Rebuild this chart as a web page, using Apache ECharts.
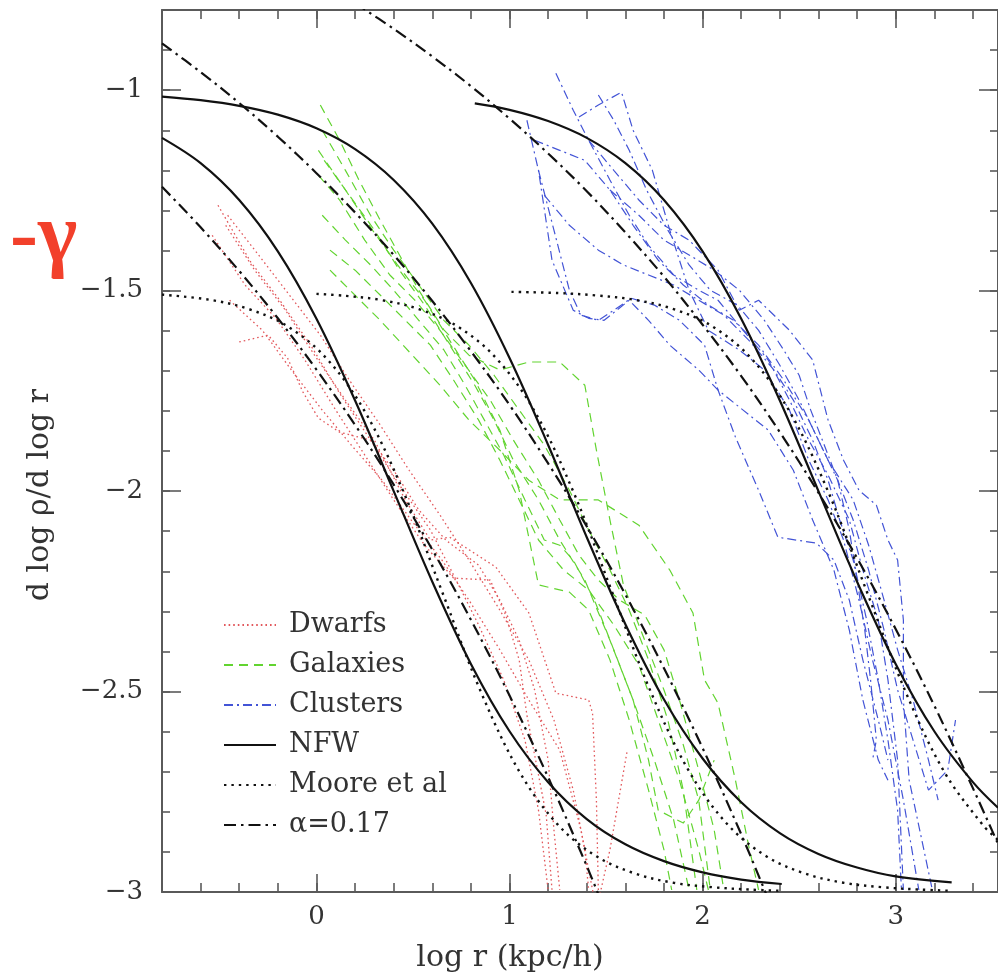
<!DOCTYPE html>
<html><head><meta charset="utf-8">
<script src="https://cdn.jsdelivr.net/npm/echarts@6/dist/echarts.min.js"></script>
<style>html,body{margin:0;padding:0;background:#fff}#c{width:998px;height:976px}</style>
</head><body><div id="c"></div>
<script>
// ---------- tick labels ----------
const xTickLabels = [0, 1, 2, 3];
const yTickLabels = [-3, -2.5, -2, -1.5, -1];
const legendNames = ['Dwarfs', 'Galaxies', 'Clusters', 'NFW', 'Moore et al', 'α=0.17'];

// ---------- model curves [log r, slope] ----------
const nfwDwarf = [[-0.8,-1.119],[-0.6,-1.182],[-0.4,-1.274],[-0.2,-1.402],[0,-1.570],[0.2,-1.774],[0.4,-2.0],[0.6,-2.226],[0.8,-2.431],[1.0,-2.599],[1.2,-2.726],[1.4,-2.818],[1.6,-2.881],[1.8,-2.923],[2.0,-2.951],[2.2,-2.969],[2.41,-2.980]];
const nfwGalaxy = [[-0.8,-1.016],[-0.6,-1.025],[-0.4,-1.039],[-0.2,-1.061],[0,-1.095],[0.2,-1.147],[0.4,-1.224],[0.6,-1.333],[0.8,-1.481],[1.0,-1.668],[1.2,-1.885],[1.4,-2.115],[1.6,-2.332],[1.8,-2.520],[2.0,-2.667],[2.2,-2.776],[2.4,-2.853],[2.6,-2.905],[2.8,-2.939],[3.0,-2.961],[3.29,-2.976]];
const nfwCluster = [[0.82,-1.033],[1.0,-1.049],[1.2,-1.077],[1.4,-1.119],[1.6,-1.182],[1.8,-1.274],[2.0,-1.402],[2.2,-1.570],[2.4,-1.774],[2.6,-2.0],[2.8,-2.226],[3.0,-2.431],[3.2,-2.599],[3.4,-2.726],[3.53,-2.79]];
const mooreDwarf = [[-0.8,-1.510],[-0.55,-1.523],[-0.35,-1.546],[-0.15,-1.589],[0.05,-1.668],[0.25,-1.801],[0.45,-2.001],[0.65,-2.25],[0.85,-2.499],[1.05,-2.699],[1.25,-2.832],[1.45,-2.911],[1.65,-2.954],[1.85,-2.977],[2.05,-2.988],[2.25,-2.994],[2.41,-2.997]];
const mooreGalaxy = [[0.0,-1.508],[0.15,-1.513],[0.33,-1.523],[0.53,-1.546],[0.73,-1.589],[0.93,-1.668],[1.13,-1.801],[1.33,-2.001],[1.53,-2.25],[1.73,-2.499],[1.93,-2.699],[2.13,-2.832],[2.33,-2.911],[2.53,-2.954],[2.73,-2.977],[2.93,-2.988],[3.13,-2.994],[3.29,-2.997]];
const mooreCluster = [[1.01,-1.503],[1.25,-1.506],[1.45,-1.512],[1.65,-1.523],[1.85,-1.546],[2.05,-1.589],[2.25,-1.668],[2.45,-1.801],[2.65,-2.001],[2.85,-2.25],[3.05,-2.499],[3.25,-2.699],[3.45,-2.832],[3.53,-2.87]];
const alphaDwarf = [[-0.8,-1.241],[-0.6,-1.342],[-0.4,-1.451],[-0.2,-1.569],[0,-1.697],[0.2,-1.835],[0.4,-1.984],[0.6,-2.146],[0.8,-2.321],[1.0,-2.510],[1.2,-2.714],[1.4,-2.935],[1.46,-3.006]];
const alphaGalaxy = [[-0.8,-0.883],[-0.6,-0.955],[-0.4,-1.032],[-0.2,-1.116],[0,-1.207],[0.2,-1.305],[0.4,-1.411],[0.6,-1.526],[0.8,-1.651],[1.0,-1.785],[1.2,-1.931],[1.4,-2.088],[1.6,-2.258],[1.8,-2.442],[2.0,-2.641],[2.2,-2.856],[2.33,-3.006]];
const alphaCluster = [[0.2,-0.783],[0.4,-0.847],[0.6,-0.916],[0.8,-0.990],[1.0,-1.071],[1.2,-1.158],[1.4,-1.252],[1.6,-1.355],[1.8,-1.465],[2.0,-1.585],[2.2,-1.713],[2.4,-1.853],[2.6,-2.004],[2.8,-2.167],[3.0,-2.344],[3.2,-2.535],[3.4,-2.741],[3.53,-2.88]];

// ---------- simulated dwarfs (red dotted) ----------
const dwarf1 = [[-0.51,-1.287],[-0.34,-1.429],[-0.19,-1.524],[-0.03,-1.636],[0.12,-1.756],[0.28,-1.873],[0.43,-1.985],[0.59,-2.097],[0.71,-2.209],[0.84,-2.334],[0.97,-2.471],[1.08,-2.621],[1.15,-2.796],[1.20,-2.995]];
const dwarf2 = [[-0.54,-1.362],[-0.37,-1.486],[-0.21,-1.569],[-0.06,-1.673],[0.10,-1.798],[0.25,-1.910],[0.40,-2.022],[0.56,-2.135],[0.71,-2.217],[0.90,-2.222],[0.98,-2.309],[1.05,-2.421],[1.09,-2.559],[1.14,-2.683],[1.19,-2.808],[1.22,-2.995]];
const dwarf3 = [[-0.40,-1.628],[-0.25,-1.611],[-0.15,-1.668],[-0.07,-1.753],[0.01,-1.818],[0.12,-1.853],[0.28,-1.873],[0.40,-1.948],[0.53,-2.047],[0.67,-2.122],[0.84,-2.185],[0.95,-2.272],[1.05,-2.372],[1.13,-2.496],[1.20,-2.671],[1.23,-2.845],[1.26,-2.995]];
const dwarf4 = [[-0.47,-1.337],[-0.32,-1.449],[-0.16,-1.549],[-0.01,-1.661],[0.15,-1.773],[0.30,-1.873],[0.46,-2.022],[0.59,-2.122],[0.69,-2.115],[0.93,-2.190],[1.10,-2.304],[1.24,-2.504],[1.41,-2.521],[1.43,-2.554],[1.45,-2.771],[1.46,-2.995]];
const dwarf5 = [[-0.45,-1.524],[-0.28,-1.599],[-0.13,-1.698],[0.03,-1.798],[0.18,-1.885],[0.34,-1.973],[0.49,-2.072],[0.65,-2.172],[0.79,-2.272],[0.95,-2.396],[1.10,-2.521],[1.26,-2.646],[1.37,-2.845],[1.45,-3.045],[1.52,-2.895],[1.61,-2.646]];
const dwarf6 = [[-0.46,-1.312],[-0.30,-1.411],[-0.14,-1.511],[0.02,-1.611],[0.17,-1.723],[0.33,-1.835],[0.48,-1.948],[0.64,-2.060],[0.79,-2.172],[0.95,-2.297],[1.10,-2.421],[1.23,-2.571],[1.33,-2.746],[1.39,-2.895],[1.41,-2.995]];

// ---------- simulated galaxies (green dashed) ----------
const galaxy1 = [[0.02,-1.037],[0.12,-1.125],[0.22,-1.224],[0.33,-1.324],[0.43,-1.411],[0.53,-1.499],[0.66,-1.598],[0.79,-1.661],[0.95,-1.698],[1.10,-1.678],[1.26,-1.678],[1.39,-1.736],[1.45,-1.898],[1.52,-2.072],[1.59,-2.234],[1.70,-2.372],[1.80,-2.496],[1.90,-2.633],[1.98,-2.771],[2.04,-2.995]];
const galaxy2 = [[0.03,-1.100],[0.15,-1.200],[0.28,-1.312],[0.40,-1.399],[0.53,-1.486],[0.66,-1.574],[0.79,-1.636],[0.92,-1.711],[1.05,-1.798],[1.18,-1.885],[1.31,-1.998],[1.41,-2.097],[1.52,-2.197],[1.62,-2.297],[1.72,-2.421],[1.82,-2.571],[1.90,-2.746],[1.97,-2.995]];
const galaxy3 = [[0.01,-1.212],[0.12,-1.274],[0.25,-1.374],[0.38,-1.461],[0.51,-1.524],[0.64,-1.599],[0.77,-1.686],[0.90,-1.773],[1.02,-1.873],[1.15,-1.973],[1.26,-2.072],[1.36,-2.160],[1.46,-2.222],[1.57,-2.272],[1.70,-2.309],[1.80,-2.396],[1.88,-2.521],[1.98,-2.696],[2.06,-2.845],[2.11,-2.995]];
const galaxy4 = [[0.03,-1.312],[0.15,-1.374],[0.28,-1.436],[0.40,-1.499],[0.53,-1.574],[0.66,-1.648],[0.77,-1.736],[0.87,-1.823],[0.97,-1.910],[1.08,-2.022],[1.18,-2.122],[1.26,-2.135],[1.33,-2.172],[1.44,-2.272],[1.54,-2.396],[1.64,-2.521],[1.72,-2.671],[1.77,-2.796],[1.90,-2.828],[1.98,-2.771],[2.06,-2.671]];
const galaxy5 = [[0.07,-1.399],[0.20,-1.449],[0.33,-1.511],[0.46,-1.574],[0.59,-1.636],[0.71,-1.723],[0.84,-1.823],[0.95,-1.923],[1.05,-2.022],[1.15,-2.122],[1.28,-2.197],[1.41,-2.247],[1.54,-2.334],[1.67,-2.434],[1.77,-2.571],[1.88,-2.721],[1.98,-2.895],[2.03,-2.995]];
const galaxy6 = [[0.04,-1.175],[0.17,-1.262],[0.30,-1.349],[0.43,-1.449],[0.56,-1.536],[0.69,-1.636],[0.82,-1.736],[0.92,-1.823],[1.02,-1.923],[1.15,-2.022],[1.26,-2.122],[1.39,-2.222],[1.52,-2.372],[1.64,-2.521],[1.75,-2.671],[1.85,-2.820],[1.93,-2.995]];
const galaxy7 = [[0.07,-1.449],[0.33,-1.574],[0.64,-1.736],[0.79,-1.823],[0.95,-1.898],[1.10,-1.973],[1.26,-2.022],[1.46,-2.022],[1.67,-2.085],[1.83,-2.197],[1.95,-2.304],[2.01,-2.471],[2.08,-2.529],[2.17,-2.721],[2.24,-2.888],[2.29,-2.995]];
const galaxy8 = [[0.01,-1.150],[0.15,-1.249],[0.29,-1.349],[0.42,-1.436],[0.56,-1.524],[0.69,-1.624],[0.82,-1.723],[0.95,-1.848],[1.05,-1.998],[1.15,-2.234],[1.31,-2.252],[1.41,-2.297],[1.52,-2.421],[1.62,-2.571],[1.72,-2.746],[1.80,-2.895],[1.84,-2.995]];

// ---------- simulated clusters (blue dash-dot) ----------
const cluster1 = [[1.24,-0.958],[1.33,-1.050],[1.41,-1.125],[1.52,-1.224],[1.62,-1.312],[1.72,-1.387],[1.85,-1.461],[1.98,-1.499],[2.08,-1.524],[2.21,-1.599],[2.34,-1.673],[2.45,-1.773],[2.55,-1.873],[2.65,-1.960],[2.76,-2.072],[2.83,-2.197],[2.91,-2.322],[2.96,-2.471],[3.01,-2.671],[3.04,-2.995]];
const cluster2 = [[1.09,-1.075],[1.15,-1.200],[1.22,-1.424],[1.33,-1.549],[1.41,-1.569],[1.49,-1.574],[1.62,-1.524],[1.72,-1.574],[1.83,-1.636],[1.98,-1.698],[2.08,-1.748],[2.21,-1.798],[2.34,-1.848],[2.47,-1.948],[2.57,-2.072],[2.68,-2.197],[2.76,-2.347],[2.83,-2.521],[2.91,-2.671],[2.96,-2.721]];
const cluster3 = [[1.36,-1.067],[1.46,-1.037],[1.58,-1.005],[1.64,-1.100],[1.74,-1.200],[1.83,-1.349],[1.93,-1.499],[2.03,-1.599],[2.19,-1.648],[2.32,-1.698],[2.45,-1.798],[2.55,-1.923],[2.65,-2.022],[2.73,-2.122],[2.81,-2.272],[2.88,-2.421],[2.96,-2.571],[3.04,-2.771],[3.12,-2.995]];
const cluster4 = [[1.13,-1.125],[1.26,-1.150],[1.39,-1.175],[1.52,-1.249],[1.64,-1.337],[1.77,-1.424],[1.90,-1.486],[2.03,-1.536],[2.16,-1.574],[2.29,-1.636],[2.42,-1.723],[2.55,-1.823],[2.65,-1.923],[2.78,-2.022],[2.86,-2.135],[2.94,-2.272],[3.01,-2.396],[3.09,-2.521],[3.17,-2.671],[3.22,-2.771]];
const cluster5 = [[1.41,-1.125],[1.54,-1.200],[1.67,-1.274],[1.80,-1.337],[1.93,-1.374],[2.08,-1.449],[2.19,-1.549],[2.29,-1.524],[2.45,-1.599],[2.57,-1.673],[2.65,-1.823],[2.73,-1.923],[2.81,-1.998],[2.90,-2.035],[2.96,-2.122],[3.01,-2.172],[3.04,-2.322],[3.04,-2.521],[3.07,-2.721],[3.19,-2.995]];
const cluster6 = [[1.52,-1.249],[1.67,-1.312],[1.80,-1.374],[1.93,-1.411],[2.06,-1.449],[2.19,-1.499],[2.32,-1.574],[2.42,-1.648],[2.50,-1.711],[2.56,-1.798],[2.63,-1.885],[2.70,-1.973],[2.76,-2.097],[2.80,-2.222],[2.84,-2.347],[2.87,-2.471],[2.90,-2.621],[2.88,-2.671]];
const cluster7 = [[1.15,-1.200],[1.23,-1.349],[1.31,-1.499],[1.37,-1.561],[1.46,-1.574],[1.54,-1.549],[1.63,-1.519],[1.75,-1.536],[1.88,-1.574],[2.01,-1.636],[2.08,-1.748],[2.17,-1.865],[2.29,-1.998],[2.39,-2.115],[2.59,-2.130],[2.68,-2.172],[2.76,-2.272],[2.83,-2.421],[2.91,-2.571],[2.96,-2.671]];
const cluster8 = [[1.46,-1.012],[1.54,-1.075],[1.62,-1.150],[1.71,-1.249],[1.82,-1.349],[1.93,-1.436],[2.04,-1.499],[2.18,-1.536],[2.29,-1.599],[2.40,-1.686],[2.50,-1.773],[2.60,-1.873],[2.70,-1.973],[2.78,-2.072],[2.86,-2.197],[2.94,-2.347],[3.01,-2.496],[3.09,-2.621],[3.17,-2.746],[3.27,-2.696],[3.31,-2.571]];
const cluster9 = [[1.18,-1.262],[1.31,-1.337],[1.46,-1.399],[1.59,-1.436],[1.72,-1.461],[1.85,-1.486],[1.98,-1.524],[2.11,-1.561],[2.24,-1.624],[2.37,-1.698],[2.47,-1.773],[2.57,-1.873],[2.65,-1.973],[2.71,-2.072],[2.78,-2.172],[2.85,-2.322],[2.91,-2.471],[2.96,-2.621],[3.01,-2.796],[3.03,-2.995]];

// ---------- styles ----------
const RED = '#e2585c', GREEN = '#62d430', BLUE = '#4354d6', BLACK = '#111';
const DOT_RED = [1.6, 3], DASH_GREEN = [9, 6], DASHDOT_BLUE = [9, 4, 2, 4];
const DOT_BLACK = [2.4, 5], DASHDOT_BLACK = [12, 5, 2.5, 5];
const FONT = 'DejaVu Serif';

function ser(name, data, color, type, width, smooth, z) {
  return {
    name, type: 'line', data, symbol: 'none', showSymbol: false,
    smooth: smooth ? 0.35 : false, clip: true, silent: true, z,
    lineStyle: { color, type, width, cap: 'butt' }, itemStyle: { color },
    emphasis: { disabled: true }, animation: false
  };
}

const series = [];
[dwarf1, dwarf2, dwarf3, dwarf4, dwarf5, dwarf6].forEach(d => series.push(ser('Dwarfs', d, RED, DOT_RED, 1.3, false, 2)));
[galaxy1, galaxy2, galaxy3, galaxy4, galaxy5, galaxy6, galaxy7, galaxy8].forEach(d => series.push(ser('Galaxies', d, GREEN, DASH_GREEN, 1.2, false, 2)));
[cluster1, cluster2, cluster3, cluster4, cluster5, cluster6, cluster7, cluster8, cluster9].forEach(d => series.push(ser('Clusters', d, BLUE, DASHDOT_BLUE, 1.2, false, 2)));
[nfwDwarf, nfwGalaxy, nfwCluster].forEach(d => series.push(ser('NFW', d, BLACK, 'solid', 2.2, true, 4)));
[mooreDwarf, mooreGalaxy, mooreCluster].forEach(d => series.push(ser('Moore et al', d, BLACK, DOT_BLACK, 2.4, true, 4)));
[alphaDwarf, alphaGalaxy, alphaCluster].forEach(d => series.push(ser('α=0.17', d, BLACK, DASHDOT_BLACK, 2.2, true, 4)));

const AX = '#5a5a5a';
const XMIN = -0.8, XMAX = 3.53, YMIN = -3, YMAX = -0.8;
function xAx(pos, minor, labels) {
  const a = {
    type: 'value', position: pos, min: XMIN, max: XMAX,
    axisLine: { show: minor, onZero: false, lineStyle: { color: AX, width: 2 } },
    splitLine: { show: false },
    axisTick: { show: true, inside: true, length: minor ? 9 : 18, lineStyle: { color: AX, width: 1.6 } },
    axisLabel: { show: false }
  };
  if (minor) { a.interval = 0.2; }
  else {
    a.axisTick.customValues = xTickLabels;
    a.axisLabel = labels ? { show: true, customValues: xTickLabels, margin: 12, fontFamily: FONT, fontSize: 26, color: '#333', formatter: v => String(v) } : { show: false };
  }
  return a;
}
function yAx(pos, minor, labels) {
  const a = {
    type: 'value', position: pos, min: YMIN, max: YMAX,
    axisLine: { show: minor, onZero: false, lineStyle: { color: AX, width: 2 } },
    splitLine: { show: false },
    axisTick: { show: true, inside: true, length: minor ? 8 : 19, lineStyle: { color: AX, width: 1.6 } },
    axisLabel: { show: false }
  };
  if (minor) { a.interval = 0.1; }
  else {
    a.axisTick.customValues = yTickLabels;
    a.axisLabel = labels ? { show: true, customValues: yTickLabels, margin: 19, fontFamily: FONT, fontSize: 26, color: '#333', formatter: v => String(v).replace('-', '\u2212') } : { show: false };
  }
  return a;
}

const chart = echarts.init(document.getElementById('c'), null, { renderer: 'canvas' });
chart.setOption({
  animation: false,
  backgroundColor: '#fff',
  grid: { left: 162, right: -2, top: 10, bottom: 84, containLabel: false },
  xAxis: [xAx('bottom', true), xAx('bottom', false, true), xAx('top', true), xAx('top', false, false)],
  yAxis: [yAx('left', true), yAx('left', false, true), yAx('right', true), yAx('right', false, false)],
  legend: {
    data: legendNames, orient: 'vertical', left: 218, top: 606,
    itemWidth: 52, itemHeight: 14, itemGap: 12, selectedMode: false,
    itemStyle: { opacity: 0, borderWidth: 0 },
    textStyle: { fontFamily: FONT, fontSize: 27, color: '#333', lineHeight: 28, padding: [0, 0, 0, 8] }
  },
  graphic: [
    { type: 'text', x: 510, y: 958, silent: true,
      style: { text: 'log r (kpc/h)', font: '30px "DejaVu Serif"', fill: '#333', align: 'center', verticalAlign: 'middle' } },
    { type: 'text', x: 40, y: 495, rotation: Math.PI / 2, silent: true,
      style: { text: 'd log ρ/d log r', font: '30px "DejaVu Serif"', fill: '#333', align: 'center', verticalAlign: 'middle' } },
    { type: 'text', x: 10, y: 197, silent: true,
      style: { text: '-γ', font: 'bold 84px "Liberation Serif"', fill: '#f2402b', align: 'left', verticalAlign: 'top' } }
  ],
  series
});
</script>
</body></html>
